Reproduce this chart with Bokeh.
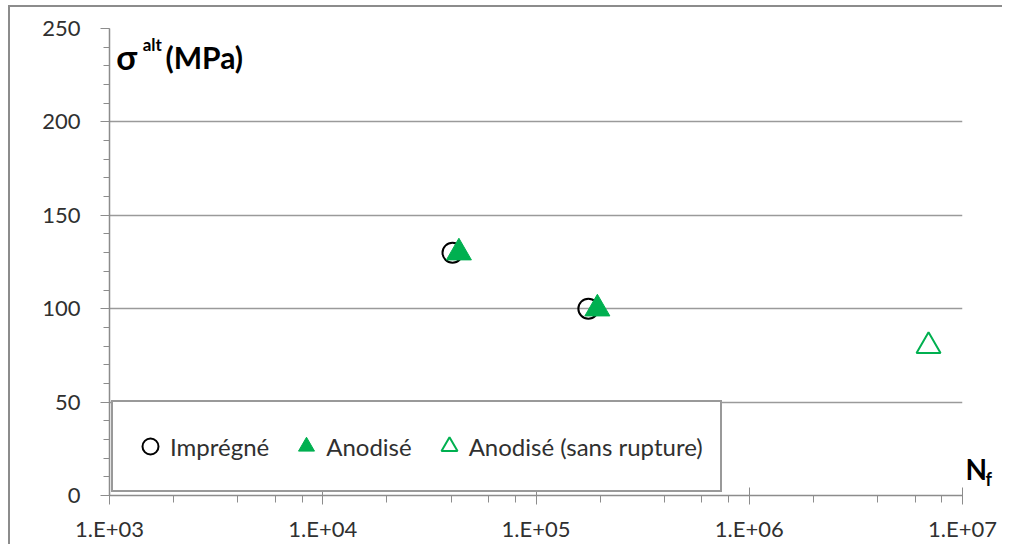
from bokeh.plotting import figure
from bokeh.models import (Legend, LegendItem, Label, LogTicker, SingleIntervalTicker,
                          LinearAxis, FixedTicker)
from bokeh.embed import file_html
from bokeh.resources import INLINE

# ---- data ----
impregne_n = [4.06e4, 1.76e5]
impregne_s = [130, 100]
anodise_n = [4.35e4, 1.94e5]
anodise_s = [130, 100]
sans_rupture_n = [6.93e6]
sans_rupture_s = [80]
x_ticks = [1e3, 1e4, 1e5, 1e6, 1e7]
x_tick_labels = ["1.E+03", "1.E+04", "1.E+05", "1.E+06", "1.E+07"]
series_names = ["Imprégné", "Anodisé", "Anodisé (sans rupture)"]

GREEN = "#00B050"
FONT = "Lato"
GRID = "#9a9a9a"
AX = "#8c8c8c"
TXT = "#303030"

p = figure(x_axis_type="log", x_range=(1e3, 1e7), y_range=(0, 250),
           frame_width=853, frame_height=467,
           min_border_left=99, min_border_top=21, min_border_right=40, min_border_bottom=48,
           output_backend="svg", toolbar_location=None,
           background_fill_color="white", border_fill_color="white")
p.styles = {"border-top": "2px solid #8c8c8c", "border-left": "2px solid #8c8c8c",
            "margin-left": "8px", "margin-top": "5px"}
p.outline_line_color = None

# grid
p.xgrid.grid_line_color = None
p.ygrid.grid_line_color = GRID
p.ygrid.grid_line_width = 1.3

# y axis
p.yaxis.ticker = SingleIntervalTicker(interval=50, num_minor_ticks=5)
p.yaxis.axis_line_color = AX
p.yaxis.axis_line_width = 1.5
p.yaxis.major_tick_line_color = AX
p.yaxis.minor_tick_line_color = AX
p.yaxis.major_tick_out = 9
p.yaxis.major_tick_in = 0
p.yaxis.minor_tick_out = 6
p.yaxis.minor_tick_in = 0
p.yaxis.major_label_standoff = 20
p.yaxis.major_label_text_font = FONT
p.yaxis.major_label_text_font_size = "22px"
p.yaxis.major_label_text_color = TXT

# x axis
p.xaxis.ticker = LogTicker(desired_num_ticks=5)
p.xaxis.major_label_overrides = {float(t): l for t, l in zip(x_ticks, x_tick_labels)}
p.xaxis.axis_line_color = AX
p.xaxis.axis_line_width = 1.5
p.xaxis.major_tick_line_color = AX
p.xaxis.minor_tick_line_color = AX
p.xaxis.major_tick_out = 9
p.xaxis.major_tick_in = 8
p.xaxis.minor_tick_out = 7
p.xaxis.minor_tick_in = 0
p.xaxis.major_label_standoff = 10
p.xaxis.major_label_text_font = FONT
p.xaxis.major_label_text_font_size = "22px"
p.xaxis.major_label_text_color = TXT

# x-axis title "N_f" placed right of the frame through two bare right-side axes
def title_axis(tick, text, size, standoff):
    ax = LinearAxis(ticker=FixedTicker(ticks=[tick]),
                    major_label_overrides={tick: text},
                    axis_line_color=None, major_tick_line_color=None,
                    minor_tick_line_color=None, major_tick_out=0, major_tick_in=0,
                    minor_tick_out=0, minor_tick_in=0,
                    major_label_standoff=standoff,
                    major_label_text_font=FONT, major_label_text_font_style="bold",
                    major_label_text_font_size=size, major_label_text_color="black")
    p.add_layout(ax, "right")

title_axis(14, "N", "28px", 3)
title_axis(9, "f", "18px", -5)

# data
r1 = p.scatter(impregne_n, impregne_s, marker="circle", size=20,
               fill_color=None, line_color="black", line_width=2)
r2 = p.scatter(anodise_n, anodise_s, marker="triangle", size=25,
               fill_color=GREEN, line_color=GREEN, line_width=1)
r3 = p.scatter(sans_rupture_n, sans_rupture_s, marker="triangle", size=24,
               fill_color=None, line_color=GREEN, line_width=2)

legend = Legend(items=[LegendItem(label=series_names[0], renderers=[r1]),
                       LegendItem(label=series_names[1], renderers=[r2]),
                       LegendItem(label=series_names[2], renderers=[r3])],
                orientation="horizontal", location=(2, 3), margin=0,
                padding=17, spacing=17, label_standoff=0,
                glyph_width=40, glyph_height=54,
                label_text_font=FONT, label_text_font_size="24px",
                label_text_color=TXT, label_height=26,
                border_line_color="#333333", border_line_width=2,
                background_fill_color="white", background_fill_alpha=1.0)
p.add_layout(legend)

# y-axis title inside the frame
def lab(x, y, text, size):
    p.add_layout(Label(x=x, y=y, text=text,
                       text_font=FONT, text_font_style="bold", text_font_size=size,
                       text_color="black", text_baseline="alphabetic"))

lab(1075, 235, "σ", "34px")
lab(1430, 241.5, "alt", "17px")
lab(1830, 235, "(MPa)", "30px")

open("out.html", "w").write(file_html(p, INLINE))
